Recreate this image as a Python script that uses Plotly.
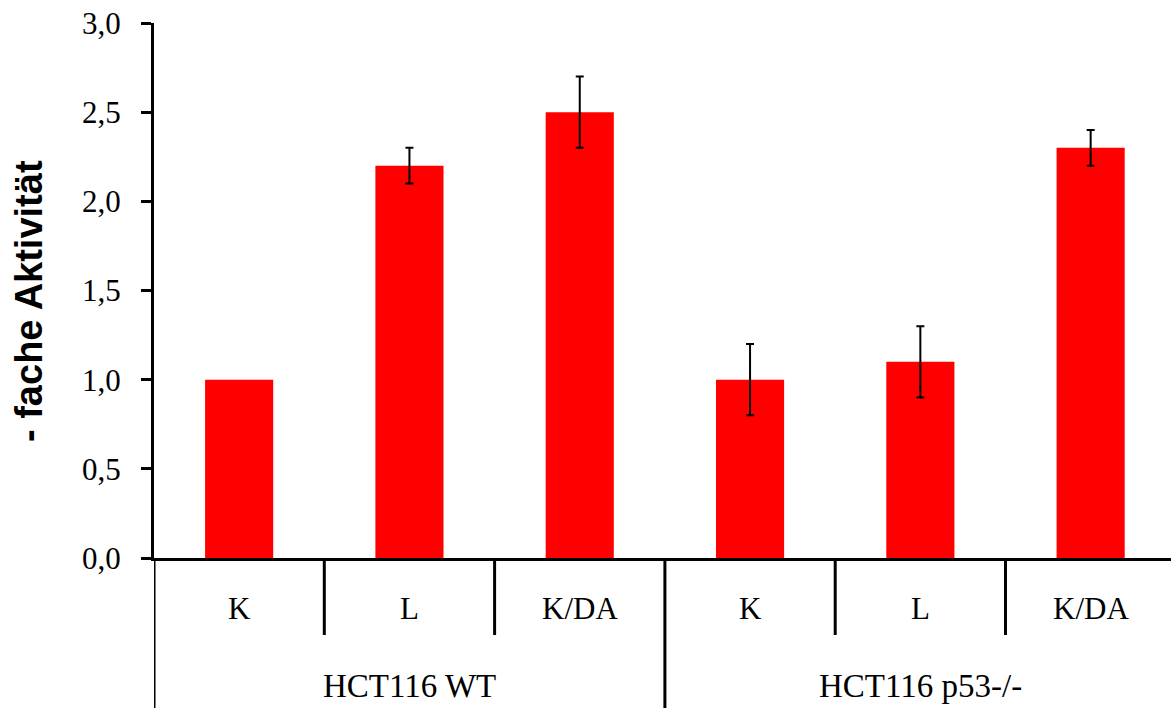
import plotly.graph_objects as go

categories = ["K", "L", "K/DA", "K", "L", "K/DA"]
groups = ["HCT116 WT", "HCT116 p53-/-"]
values = [1.0, 2.2, 2.5, 1.0, 1.1, 2.3]
errors = [0.0, 0.1, 0.2, 0.2, 0.2, 0.1]
y_ticks = [0.0, 0.5, 1.0, 1.5, 2.0, 2.5, 3.0]
y_tick_labels = ["0,0", "0,5", "1,0", "1,5", "2,0", "2,5", "3,0"]

xpos = list(range(len(categories)))

W, H = 1171, 708
L, T, B = 154, 23, 150
H_PLOT = H - T - B  # 535
W_PLOT = W - L
CAT_W = 170.3  # px per category; last category runs past the right edge
X_MAX = -0.5 + W_PLOT / CAT_W

fig = go.Figure()
fig.add_trace(go.Bar(
    x=xpos, y=values, width=0.4,
    marker=dict(color="#ff0000", line=dict(width=0)),
    showlegend=False, hoverinfo="skip",
))
idx = [i for i, e in enumerate(errors) if e > 0]
fig.add_trace(go.Scatter(
    x=[xpos[i] for i in idx], y=[values[i] for i in idx], mode="markers",
    marker=dict(size=1, color="rgba(0,0,0,0)"),
    error_y=dict(type="data", array=[errors[i] for i in idx], visible=True,
                 color="black", thickness=2, width=4),
    showlegend=False,
))

def py(pix_below):
    return -pix_below / H_PLOT

serif = "Liberation Serif"
shapes = []
for xv in [0.5, 1.5, 3.5, 4.5]:
    shapes.append(dict(type="line", xref="x", yref="paper", x0=xv, x1=xv,
                       y0=0, y1=py(77), line=dict(color="black", width=3)))
for xv in [-0.5, 2.5]:
    shapes.append(dict(type="line", xref="x", yref="paper", x0=xv, x1=xv,
                       y0=0, y1=py(150), line=dict(color="black", width=3)))

annotations = []
for i, c in enumerate(categories):
    annotations.append(dict(x=i, y=py(50), xref="x", yref="paper", text=c,
                            showarrow=False, yanchor="middle",
                            font=dict(family=serif, size=31, color="black")))
for gi, g in enumerate(groups):
    annotations.append(dict(x=1 + 3 * gi, y=py(128), xref="x", yref="paper", text=g,
                            showarrow=False, yanchor="middle",
                            font=dict(family=serif, size=33, color="black")))
annotations.append(dict(x=(29 - 154) / W_PLOT, y=(558 - 301) / H_PLOT,
                        xref="paper", yref="paper", text="<b>- fache Aktivität</b>",
                        showarrow=False, textangle=-90, xanchor="center", yanchor="middle",
                        font=dict(family="Liberation Sans", size=38, color="black")))

fig.update_layout(
    width=W, height=H,
    margin=dict(l=L, r=0, t=T, b=B, pad=0),
    plot_bgcolor="white", paper_bgcolor="white",
    xaxis=dict(range=[-0.5, X_MAX], showticklabels=False, ticks="", showgrid=False,
               zeroline=False, showline=True, linecolor="black", linewidth=3,
               automargin=False),
    yaxis=dict(range=[0, 3], tickvals=y_ticks, ticktext=y_tick_labels,
               ticks="outside", ticklen=10, tickwidth=3, tickcolor="black",
               ticklabelstandoff=14, ticklabeloverflow="allow",
               showgrid=False, zeroline=False, showline=True, linecolor="black",
               linewidth=3, automargin=False,
               tickfont=dict(family=serif, size=31, color="black")),
    shapes=shapes, annotations=annotations,
)

fig.write_html("out.html", config={"displayModeBar": False},
               post_script="document.body.style.margin='0';document.body.style.overflow='hidden';")
